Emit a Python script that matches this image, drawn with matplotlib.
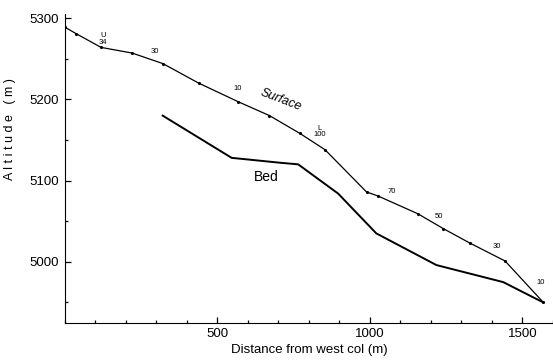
import matplotlib
matplotlib.use('Agg')
import matplotlib.pyplot as plt
from matplotlib.ticker import MultipleLocator

plt.rcParams['font.family'] = ['Liberation Sans', 'DejaVu Sans']

# ── Data ──────────────────────────────────────────────────────────────────────
surf_x = [0, 37, 119, 221, 322, 439, 569, 671, 771, 853, 989, 1027, 1158, 1240, 1328, 1443, 1566]
surf_y = [5289, 5281, 5264, 5257, 5244, 5220, 5197, 5180, 5158, 5138, 5086, 5081, 5059, 5041, 5023, 5001, 4951]

bed_x = [321, 547, 705, 765, 896, 1021, 1218, 1437, 1568]
bed_y = [5180, 5128, 5122, 5120, 5084, 5035, 4996, 4975, 4950]

stake_text = ['U\n34', '30', '10', 'L\n100', '70', '50', '30', '10']
stake_x = [126, 296, 568, 836, 1072, 1226, 1415, 1560]
stake_y = [5266, 5255, 5209, 5152, 5082, 5052, 5014, 4970]

fig = plt.figure(figsize=(5.53, 3.61), dpi=100)
ax = fig.add_axes([0.117, 0.106, 0.883, 0.855])

ax.plot(surf_x, surf_y, color='black', lw=0.9, marker='.', ms=2.5)
ax.plot(bed_x, bed_y, color='black', lw=1.4)

for t, x, y in zip(stake_text, stake_x, stake_y):
    ax.text(x, y, t, fontsize=5.5, ha='center', va='bottom', linespacing=0.9)

ax.text(707, 5199, 'Surface', fontsize=9, style='italic', rotation=-21,
        ha='center', va='center')
ax.text(659, 5105, 'Bed', fontsize=10, ha='center', va='center')

ax.set_xlim(0, 1600)
ax.set_ylim(4925, 5305)
ax.spines['top'].set_visible(False)
ax.spines['right'].set_visible(False)
ax.xaxis.set_major_locator(MultipleLocator(500))
ax.xaxis.set_minor_locator(MultipleLocator(100))
ax.yaxis.set_major_locator(MultipleLocator(100))
ax.yaxis.set_minor_locator(MultipleLocator(50))
ax.set_xticks([500, 1000, 1500])
ax.tick_params(which='both', direction='in', labelsize=9.5, width=0.9)
ax.tick_params(which='major', length=4, pad=4)
ax.tick_params(which='minor', length=2.5)

ax.set_xlabel('Distance from west col (m)', fontsize=9.5, labelpad=3)
ax.set_ylabel('A l t i t u d e   ( m )', fontsize=9)
ax.yaxis.set_label_coords(-0.1, 0.627)

plt.savefig('out.png', dpi=100)
